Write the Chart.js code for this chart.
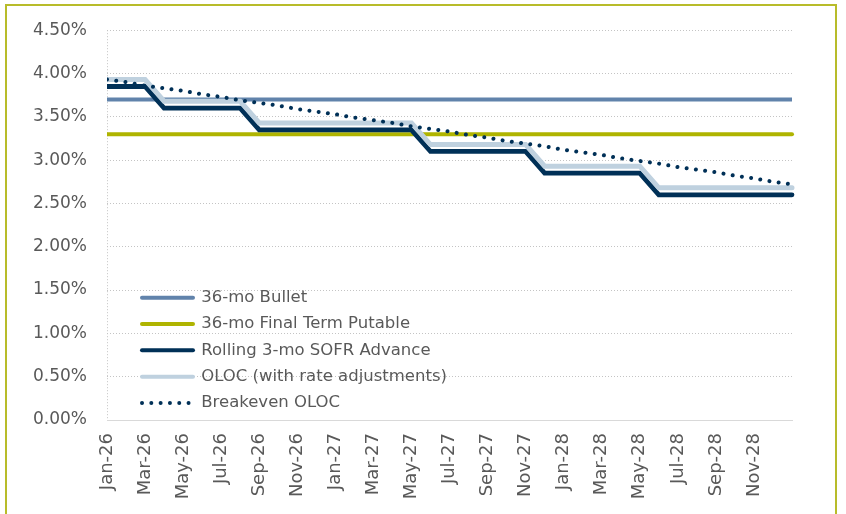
<!DOCTYPE html>
<html><head><meta charset="utf-8">
<script src="https://cdn.jsdelivr.net/npm/chart.js@4.4.1/dist/chart.umd.min.js"></script>
<style>
html,body{margin:0;padding:0;background:#fff;}
#wrap{position:relative;width:846px;height:514px;overflow:hidden;background:#fff;}
#frame{position:absolute;left:5px;top:4px;width:828px;height:600px;border:2px solid #b8bc2a;pointer-events:none;}
canvas{position:absolute;left:0;top:0;}
</style></head><body>
<div id="wrap"><canvas id="c" width="846" height="514"></canvas><div id="frame"></div></div>
<script>
const categories = ['Jan-26','Feb-26','Mar-26','Apr-26','May-26','Jun-26','Jul-26','Aug-26','Sep-26','Oct-26','Nov-26','Dec-26',
  'Jan-27','Feb-27','Mar-27','Apr-27','May-27','Jun-27','Jul-27','Aug-27','Sep-27','Oct-27','Nov-27','Dec-27',
  'Jan-28','Feb-28','Mar-28','Apr-28','May-28','Jun-28','Jul-28','Aug-28','Sep-28','Oct-28','Nov-28','Dec-28','Jan-29'];

const bullet36 = [3.70,3.70,3.70,3.70,3.70,3.70,3.70,3.70,3.70,3.70,3.70,3.70,
  3.70,3.70,3.70,3.70,3.70,3.70,3.70,3.70,3.70,3.70,3.70,3.70,
  3.70,3.70,3.70,3.70,3.70,3.70,3.70,3.70,3.70,3.70,3.70,3.70,3.70];

const putable36 = [3.30,3.30,3.30,3.30,3.30,3.30,3.30,3.30,3.30,3.30,3.30,3.30,
  3.30,3.30,3.30,3.30,3.30,3.30,3.30,3.30,3.30,3.30,3.30,3.30,
  3.30,3.30,3.30,3.30,3.30,3.30,3.30,3.30,3.30,3.30,3.30,3.30,3.30];

const sofr3 = [3.85,3.85,3.85,3.60,3.60,3.60,3.60,3.60,3.35,3.35,3.35,3.35,
  3.35,3.35,3.35,3.35,3.35,3.10,3.10,3.10,3.10,3.10,3.10,2.85,
  2.85,2.85,2.85,2.85,2.85,2.60,2.60,2.60,2.60,2.60,2.60,2.60,2.60];

const oloc = [3.93,3.93,3.93,3.68,3.68,3.68,3.68,3.68,3.43,3.43,3.43,3.43,
  3.43,3.43,3.43,3.43,3.43,3.18,3.18,3.18,3.18,3.18,3.18,2.93,
  2.93,2.93,2.93,2.93,2.93,2.68,2.68,2.68,2.68,2.68,2.68,2.68,2.68];

const breakeven = [3.93,3.90,3.86,3.83,3.80,3.76,3.73,3.69,3.66,3.63,3.59,3.56,
  3.53,3.49,3.46,3.43,3.39,3.36,3.33,3.29,3.26,3.22,3.19,3.16,
  3.12,3.09,3.06,3.02,2.99,2.96,2.92,2.89,2.86,2.82,2.79,2.75,2.72];

const yTickLabels = ['0.00%','0.50%','1.00%','1.50%','2.00%','2.50%','3.00%','3.50%','4.00%','4.50%'];

const seriesNames = ['36-mo Bullet','36-mo Final Term Putable','Rolling 3-mo SOFR Advance','OLOC (with rate adjustments)','Breakeven OLOC'];

Chart.defaults.font.family = "'DejaVu Sans', sans-serif";
Chart.defaults.color = '#595959';

const legendPlace = {
  id: 'legendPlace',
  afterLayout(chart) {
    const lg = chart.legend;
    if (!lg) return;
    const p = lg.options.labels.padding;
    lg.left = 142 - p;
    lg.top = 289.5 - p;
    lg.right = chart.width;
    lg.bottom = chart.height;
    lg.width = lg.right - lg.left;
    lg.height = lg.bottom - lg.top;
  }
};

const clipOpt = {left: 0, top: 8, right: 8, bottom: 8};

new Chart(document.getElementById('c'), {
  type: 'line',
  data: {
    labels: categories,
    datasets: [
      {label: seriesNames[0], data: bullet36, borderColor: '#6183ab', backgroundColor: '#6183ab', borderWidth: 4, order: 5,
       pointRadius: 0, borderCapStyle: 'butt', borderJoinStyle: 'round', clip: clipOpt, legendCap: 'round'},
      {label: seriesNames[1], data: putable36, borderColor: '#afb400', backgroundColor: '#afb400', borderWidth: 4, order: 4,
       pointRadius: 0, borderCapStyle: 'round', borderJoinStyle: 'round', clip: clipOpt, legendCap: 'round'},
      {label: seriesNames[2], data: sofr3, borderColor: '#003057', backgroundColor: '#003057', borderWidth: 4.8, order: 3,
       pointRadius: 0, borderCapStyle: 'round', borderJoinStyle: 'miter', clip: clipOpt, legendCap: 'round'},
      {label: seriesNames[3], data: oloc, borderColor: '#bfd1df', backgroundColor: '#bfd1df', borderWidth: 5, order: 2,
       pointRadius: 0, borderCapStyle: 'round', borderJoinStyle: 'miter', clip: clipOpt, legendCap: 'round'},
      {label: seriesNames[4], data: breakeven, borderColor: '#003057', backgroundColor: '#003057', borderWidth: 4, order: 1,
       pointRadius: 0, borderDash: [0.01, 9.3], borderCapStyle: 'round', borderJoinStyle: 'round', clip: clipOpt, legendCap: 'round'}
    ]
  },
  options: {
    responsive: false,
    animation: false,
    events: [],
    layout: {padding: {left: 0, top: 29, right: 54, bottom: 0}},
    plugins: {
      tooltip: {enabled: false},
      legend: {
        display: true,
        position: 'chartArea',
        align: 'start',
        labels: {
          usePointStyle: true,
          pointStyleWidth: 51,
          padding: 9.8,
          color: '#595959',
          font: {size: 16.5, family: "'DejaVu Sans', sans-serif"},
          generateLabels(chart) {
            return chart.data.datasets.map((ds, i) => ({
              text: ds.label,
              strokeStyle: ds.borderColor,
              fillStyle: ds.borderColor,
              lineWidth: ds.borderDash ? 4 : 4,
              lineDash: ds.borderDash || [],
              lineCap: ds.legendCap,
              pointStyle: 'line',
              hidden: false,
              datasetIndex: i,
              fontColor: '#595959'
            }));
          }
        }
      }
    },
    scales: {
      x: {
        type: 'category',
        offset: false,
        afterFit(s) { s.height = 94; },
        grid: {
          drawTicks: false,
          lineWidth: 1,
          color: (ctx) => ctx.index === 0 ? '#c4c4c4' : 'rgba(0,0,0,0)'
        },
        border: {display: true, color: '#d9d9d9', width: 1, dash: [1, 2]},
        ticks: {
          autoSkip: false,
          maxRotation: 90,
          minRotation: 90,
          padding: 13,
          color: '#595959',
          font: {size: 18},
          callback: (v, i) => (i % 2 === 0 && i < categories.length - 1) ? categories[i] : ''
        }
      },
      y: {
        min: 0,
        max: 4.5,
        afterFit(s) { s.width = 107; },
        grid: {drawTicks: false, color: '#c4c4c4', lineWidth: 1},
        border: {display: false, dash: [1, 2]},
        ticks: {
          stepSize: 0.5,
          padding: 20,
          color: '#595959',
          font: {size: 17},
          callback: (v, i) => yTickLabels[i]
        }
      }
    }
  },
  plugins: [legendPlace]
});
</script>
</body></html>
